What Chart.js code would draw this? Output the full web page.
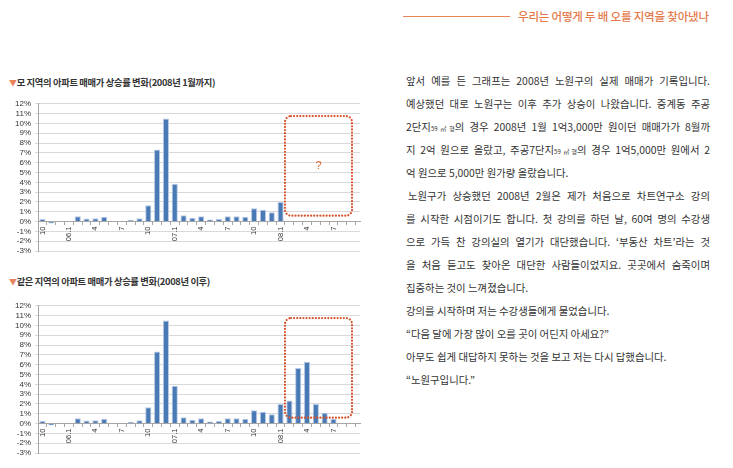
<!DOCTYPE html>
<html>
<head>
<meta charset="utf-8">
<script src="https://cdn.jsdelivr.net/npm/chart.js@4.4.1/dist/chart.umd.min.js"></script>
<style>
body{margin:0;background:#fff;width:733px;height:468px;overflow:hidden;position:relative;font-family:"Noto Sans CJK KR",sans-serif;}
.hdline{position:absolute;left:403px;top:16px;width:107px;height:1px;background:#e8835a;}
.hd{position:absolute;left:518px;top:8px;font-size:11.5px;line-height:16px;color:#e47a4c;letter-spacing:-0.2px;font-weight:500;}
.ttl{position:absolute;left:9px;font-size:9.3px;line-height:12px;letter-spacing:-0.35px;color:#333;font-weight:bold;}
.ttl b{color:#e8835a;font-size:8px;}
.cv{position:absolute;left:0;}
#txt{position:absolute;left:406px;top:69px;width:304px;font-size:10.4px;line-height:23px;color:#333;}
#txt div{height:23px;}
#txt .f{text-align:justify;text-align-last:justify;}
#txt small{font-size:6px;}
</style>
</head>
<body>
<div class="hdline"></div>
<div class="hd">우리는 어떻게 두 배 오를 지역을 찾아냈나</div>

<div class="ttl" style="top:76px"><b>▼</b>모 지역의 아파트 매매가 상승률 변화(2008년 1월까지)</div>
<canvas id="chart1" class="cv" style="top:95px" width="368" height="168"></canvas>

<div class="ttl" style="top:275px"><b>▼</b>같은 지역의 아파트 매매가 상승률 변화(2008년 이후)</div>
<canvas id="chart2" class="cv" style="top:297px" width="368" height="168"></canvas>

<div id="txt">
<div class="f">앞서 예를 든 그래프는 2008년 노원구의 실제 매매가 기록입니다.</div>
<div class="f">예상했던 대로 노원구는 이후 추가 상승이 나왔습니다. 중계동 주공</div>
<div class="f">2단지<small>59㎡형</small>의 경우 2008년 1월 1억3,000만 원이던 매매가가 8월까</div>
<div class="f">지 2억 원으로 올랐고, 주공7단지<small>59㎡형</small>의 경우 1억5,000만 원에서 2</div>
<div>억 원으로 5,000만 원가량 올랐습니다.</div>
<div class="f" style="padding-left:2px">노원구가 상승했던 2008년 2월은 제가 처음으로 차트연구소 강의</div>
<div class="f">를 시작한 시점이기도 합니다. 첫 강의를 하던 날, 60여 명의 수강생</div>
<div class="f">으로 가득 찬 강의실의 열기가 대단했습니다. ‘부동산 차트’라는 것</div>
<div class="f">을 처음 듣고도 찾아온 대단한 사람들이었지요. 곳곳에서 숨죽이며</div>
<div>집중하는 것이 느껴졌습니다.</div>
<div>강의를 시작하며 저는 수강생들에게 물었습니다.</div>
<div>“다음 달에 가장 많이 오를 곳이 어딘지 아세요?”</div>
<div>아무도 쉽게 대답하지 못하는 것을 보고 저는 다시 답했습니다.</div>
<div>“노원구입니다.”</div>
</div>

<script>
// x tick labels, one every 3 months starting 2005.10
let tickLabels = ['10','06.1','4','7','10','07.1','4','7','10','08.1','4','7'];
// monthly change (%) 2005.10 ~ 2008.1
let ratesTo0801 = [0.25,-0.2,0,0.05,0.55,0.3,0.35,0.5,0,0.02,0.15,0.35,1.65,7.35,10.5,3.85,0.65,0.4,0.55,0.2,0.25,0.55,0.55,0.5,1.35,1.2,0.95,2.0];
// 2008.2 ~ 2008.7
let ratesAfter0801 = [2.35,5.65,6.3,2.0,1.1,0.5];

let boxArea = {x0:27.5, x1:35.1, y0:0.6, y1:10.75};

let dotBox = {
    id:'dotBox',
    afterDatasetsDraw(chart, args, opts){
        let ctx = chart.ctx;
        let x = chart.scales.x, y = chart.scales.y;
        let l = x.getPixelForValue(boxArea.x0), r = x.getPixelForValue(boxArea.x1);
        let t = y.getPixelForValue(boxArea.y1), b = y.getPixelForValue(boxArea.y0);
        ctx.save();
        ctx.strokeStyle = '#d6502a';
        ctx.lineWidth = 2.2;
        ctx.lineCap = 'round';
        ctx.setLineDash([0.01,3.1]);
        ctx.beginPath();
        ctx.roundRect(l,t,r-l,b-t,6);
        ctx.stroke();
        if(opts.q){
            ctx.fillStyle = '#e0683a';
            ctx.font = '11px "Liberation Sans"';
            ctx.textAlign = 'center';
            ctx.textBaseline = 'middle';
            ctx.fillText('?',(l+r)/2,(t+b)/2);
        }
        ctx.restore();
    }
};

function makeChart(id, values, showQ){
    return new Chart(document.getElementById(id),{
        type:'bar',
        data:{
            datasets:[{
                data:values.map((v,i) => ({x:i,y:v})),
                backgroundColor:'#4a7ab5',
                borderColor:'#b7cbe4',
                borderWidth:1,
                barPercentage:0.7,
                categoryPercentage:1
            }]
        },
        options:{
            responsive:false,
            animation:false,
            layout:{padding:{top:8,right:8,bottom:12,left:0}},
            plugins:{legend:{display:false},tooltip:{enabled:false},dotBox:{q:showQ}},
            scales:{
                x:{
                    type:'linear',min:0,max:35.5,position:{y:0},
                    grid:{drawOnChartArea:false,tickLength:3,color:'#a6a6a6'},
                    border:{color:'#a6a6a6'},
                    ticks:{stepSize:1,includeBounds:false,autoSkip:false,maxRotation:90,minRotation:90,padding:2,
                        color:'#333',font:{size:7.5,family:'"Liberation Sans"'},
                        callback:v => (v%3===0 ? tickLabels[v/3] : '')}
                },
                y:{
                    min:-3,max:12,
                    grid:{color:'#d9d9d9',tickLength:3},
                    border:{color:'#a6a6a6'},
                    ticks:{stepSize:1,autoSkip:false,padding:4,color:'#333',font:{size:8,family:'"Liberation Sans"'},callback:v => v+'%'},
                    afterFit:s => {s.width = 38;}
                }
            }
        },
        plugins:[dotBox]
    });
}

makeChart('chart1', ratesTo0801, true);
makeChart('chart2', ratesTo0801.concat(ratesAfter0801), false);
</script>
</body>
</html>
